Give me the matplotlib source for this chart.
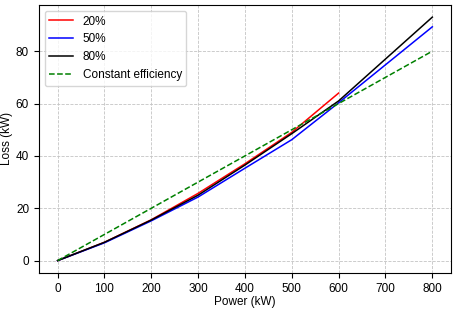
import matplotlib
matplotlib.use('Agg')
import matplotlib.pyplot as plt
import numpy as np

plt.rcParams['font.family'] = ['Liberation Sans', 'DejaVu Sans']

# Effekt (kW) og tap (kW) ved ulike lastnivåer
power = [0, 100, 200, 300, 400, 500, 600, 700, 800]
power_20 = [0, 100, 200, 300, 400, 500, 600]
loss_20 = [0, 7.0, 15.6, 25.7, 37.0, 49.0, 64.0]
loss_50 = [0, 6.8, 15.2, 24.3, 35.3, 46.2, 60.3, 74.8, 89.3]
loss_80 = [0, 7.0, 15.5, 25.0, 36.5, 48.5, 61.0, 77.0, 93.0]
eff_const = 0.10
loss_const = [p*eff_const for p in power]

fig = plt.figure(figsize=(4.57, 3.10), dpi=100)
ax = plt.gca()
plt.plot(power_20, loss_20, color='red', lw=1.1, label='20%')
plt.plot(power, loss_50, color='blue', lw=1.1, label='50%')
plt.plot(power, loss_80, color='black', lw=1.1, label='80%')
plt.plot(power, loss_const, '--', color='green', lw=1.1, label='Constant efficiency')
plt.xlabel('Power (kW)', fontsize=8.5, labelpad=1)
plt.ylabel('Loss (kW)', fontsize=8.5, labelpad=2)
plt.xticks(np.arange(0, 801, 100))
plt.tick_params(labelsize=8.5)
plt.grid(ls='--', color='#c4c4c4', lw=0.6)
plt.legend(loc='upper left', fontsize=8.5)
plt.subplots_adjust(left=0.085, right=0.987, top=0.984, bottom=0.12)
fig.savefig('out.png', dpi=100)
